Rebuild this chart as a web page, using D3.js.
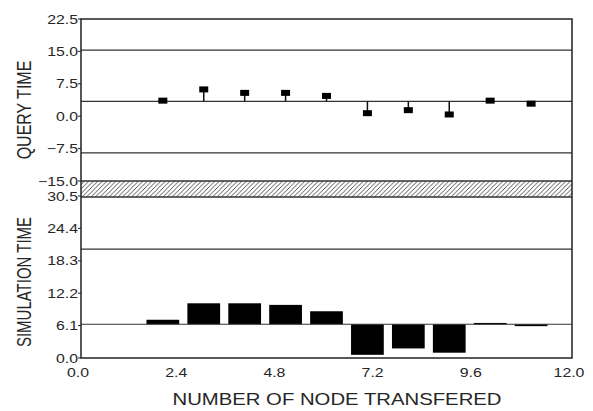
<!DOCTYPE html>
<html>
<head>
<meta charset="utf-8">
<script src="https://cdn.jsdelivr.net/npm/d3@7"></script>
<style>
    body { margin: 0; background: #fff; }
    text { font-family: "Liberation Sans", Arial, sans-serif; fill: #262626; }
</style>
</head>
<body>
<div id="chart"></div>
<script>

// node counts on the x axis
let nodes = [2, 3, 4, 5, 6, 7, 8, 9, 10, 11];

// query time per node count (upper panel)
let queryTime = [3.6, 6.2, 5.4, 5.4, 4.7, 0.7, 1.4, 0.4, 3.6, 2.9];
let queryLines = {center: 3.45, upper: 15.3, lower: -8.5};
let queryTicks = [22.5, 15.0, 7.5, 0.0, -7.5, -15.0];

// simulation time per node count (lower panel)
let simTime = [7.2, 10.3, 10.3, 10.0, 8.8, 0.6, 1.8, 1.0, 6.6, 6.0];
let simLines = {center: 6.35, upper: 20.5};
let simTicks = [30.5, 24.4, 18.3, 12.2, 6.1, 0.0];

let xTicks = [0.0, 2.4, 4.8, 7.2, 9.6, 12.0];

// layout
let width = 593, height = 411;
let left = 81, right = 572;
let topY0 = 19, topY1 = 181, botY0 = 197, botY1 = 358;
let sx = 1.27;   // the original is stretched sideways

let svg = d3.select("#chart").append("svg")
    .attr("width", width)
    .attr("height", height);

let x = d3.scaleLinear().domain([0, 12]).range([left, right]);
let yQ = d3.scaleLinear().domain([-15, 22.5]).range([topY1, topY0]);
let yS = d3.scaleLinear().domain([0, 30.5]).range([botY1, botY0 - 1]);

// hatched axis break
let defs = svg.append("defs");
defs.append("pattern")
    .attr("id", "hatch")
    .attr("patternUnits", "userSpaceOnUse")
    .attr("width", 4.5).attr("height", 4.5)
    .append("path")
    .attr("d", "M-1,5.5 L5.5,-1 M-1,1 L1,-1 M3.5,5.5 L5.5,3.5")
    .attr("stroke", "#222")
    .attr("stroke-width", 0.8);

svg.append("rect")
    .attr("x", left).attr("y", topY1)
    .attr("width", right - left).attr("height", botY0 - topY1)
    .attr("fill", "url(#hatch)");

// reference lines
function hline(y, w) {
    svg.append("line")
        .attr("x1", left).attr("x2", right)
        .attr("y1", y).attr("y2", y)
        .attr("stroke", "#333")
        .attr("stroke-width", w || 1.2);
}
hline(yQ(queryLines.upper));
hline(yQ(queryLines.center));
hline(yQ(queryLines.lower));
hline(topY1, 1.5);
hline(botY0, 1.5);
hline(yS(simLines.upper));

// simulation bars (drawn from the center line)
let barW = x(0.8) - x(0);
svg.append("g").selectAll("rect")
    .data(nodes)
    .enter().append("rect")
    .attr("x", (d, i) => x(d) - barW / 2)
    .attr("y", (d, i) => Math.min(yS(simTime[i]), yS(simLines.center)))
    .attr("width", barW)
    .attr("height", (d, i) => Math.max(1.5, Math.abs(yS(simTime[i]) - yS(simLines.center))))
    .attr("fill", "#000");

hline(yS(simLines.center));

// query stems + markers
svg.append("g").selectAll("line")
    .data(nodes)
    .enter().append("line")
    .attr("x1", d => x(d)).attr("x2", d => x(d))
    .attr("y1", yQ(queryLines.center))
    .attr("y2", (d, i) => yQ(queryTime[i]))
    .attr("stroke", "#111")
    .attr("stroke-width", 1.5);

svg.append("g").selectAll("rect")
    .data(nodes)
    .enter().append("rect")
    .attr("x", d => x(d) - 4.5)
    .attr("y", (d, i) => yQ(queryTime[i]) - 3)
    .attr("width", 9).attr("height", 6)
    .attr("fill", "#000");

// frame
svg.append("path")
    .attr("d", `M${left},${topY0} H${right} V${botY1} H${left} Z`)
    .attr("fill", "none")
    .attr("stroke", "#222")
    .attr("stroke-width", 1.5);

// y tick labels
function yLabels(ticks, scale) {
    ticks.forEach(t => {
        svg.append("line")
            .attr("x1", left - 3).attr("x2", left)
            .attr("y1", scale(t)).attr("y2", scale(t))
            .attr("stroke", "#222");
        svg.append("text")
            .attr("transform", `translate(${left - 3},${scale(t)}) scale(${sx},1)`)
            .attr("text-anchor", "end")
            .attr("dy", "0.36em")
            .style("font-size", "12.5px")
            .text(d3.format(".1f")(t));
    });
}
yLabels(queryTicks, yQ);
yLabels(simTicks, yS);

// x tick labels
xTicks.forEach(t => {
    svg.append("text")
        .attr("transform", `translate(${x(t) - 3},377) scale(${sx},1)`)
        .attr("text-anchor", "middle")
        .style("font-size", "12.5px")
        .text(d3.format(".1f")(t));
});

// axis titles
svg.append("text")
    .attr("transform", "translate(337,405) scale(1.21,1)")
    .attr("text-anchor", "middle")
    .style("font-size", "16.8px")
    .text("NUMBER OF NODE TRANSFERED");

svg.append("text")
    .attr("transform", "translate(31,110) scale(1.3,1) rotate(-90)")
    .attr("text-anchor", "middle")
    .style("font-size", "16px")
    .text("QUERY TIME");

svg.append("text")
    .attr("transform", "translate(31,282) scale(1.3,1) rotate(-90)")
    .attr("text-anchor", "middle")
    .style("font-size", "15px")
    .text("SIMULATION TIME");

</script>
</body>
</html>
